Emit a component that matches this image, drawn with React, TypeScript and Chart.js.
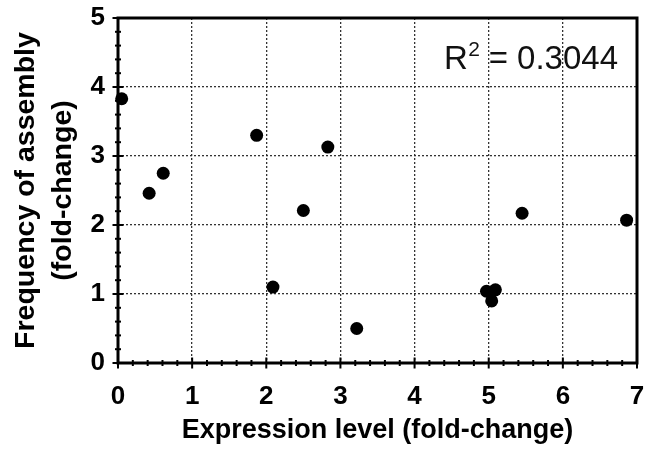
import React, { useEffect, useRef } from "react";
import { Chart, registerables } from "chart.js";

Chart.register(...registerables);

const expression = [0.05, 0.42, 0.61, 1.87, 2.09, 2.5, 2.83, 3.22, 4.97, 5.04, 5.09, 5.45, 6.86];
const frequency = [3.83, 2.46, 2.75, 3.3, 1.1, 2.21, 3.13, 0.5, 1.04, 0.9, 1.06, 2.17, 2.07];
const xTitle = "Expression level (fold-change)";
const yTitle = ["Frequency of assembly", "(fold-change)"];
const rSquared = "0.3044";
const X_MIN = 0, X_MAX = 7, Y_MIN = 0, Y_MAX = 5;
const MINOR = 0.2;

const FONT = "'Liberation Sans', Arial, Helvetica, sans-serif";

const framePlugin = {
  id: "frame",
  beforeDatasetsDraw(chart: any) {
    const { ctx, chartArea: a, scales } = chart;
    const x = scales.x, y = scales.y;
    ctx.save();
    ctx.strokeStyle = "#000";
    ctx.lineWidth = 3;
    ctx.strokeRect(a.left, a.top, a.right - a.left, a.bottom - a.top);
    ctx.lineWidth = 2;
    const nx = Math.round((x.max - x.min) / MINOR);
    for (let i = 0; i <= nx; i++) {
      const v = x.min + i * MINOR;
      const major = Math.abs(v - Math.round(v)) < 1e-6;
      const len = major ? 5.5 : 3;
      const px = x.getPixelForValue(v);
      ctx.beginPath();
      ctx.moveTo(px, a.bottom - len);
      ctx.lineTo(px, a.bottom + len);
      ctx.stroke();
    }
    const ny = Math.round((y.max - y.min) / MINOR);
    for (let i = 0; i <= ny; i++) {
      const v = y.min + i * MINOR;
      const major = Math.abs(v - Math.round(v)) < 1e-6;
      const len = major ? 5.5 : 3;
      const py = y.getPixelForValue(v);
      ctx.beginPath();
      ctx.moveTo(a.left - len, py);
      ctx.lineTo(a.left + len, py);
      ctx.stroke();
    }
    ctx.restore();
  },
  afterDraw(chart: any) {
    const { ctx, chartArea: a } = chart;
    ctx.save();
    ctx.fillStyle = "#111";
    ctx.textBaseline = "alphabetic";
    const rest = " = " + rSquared;
    ctx.font = `33px ${FONT}`;
    const wRest = ctx.measureText(rest).width;
    const wR = ctx.measureText("R").width;
    ctx.font = `21px ${FONT}`;
    const w2 = ctx.measureText("2").width;
    const right = a.right - 19;
    const base = a.top + 51;
    const start = right - wRest - w2 - wR;
    ctx.font = `33px ${FONT}`;
    ctx.textAlign = "left";
    ctx.fillText("R", start, base);
    ctx.fillText(rest, start + wR + w2, base);
    ctx.font = `21px ${FONT}`;
    ctx.fillText("2", start + wR + 0.5, base - 13);
    ctx.restore();
  },
};

export default function App() {
  const ref = useRef<HTMLCanvasElement | null>(null);
  useEffect(() => {
    if (!ref.current) return;
    const gridColor = "rgba(40,40,40,0.95)";
    const zeroPad = (s: any) => {
      s.paddingTop = 0;
      s.paddingBottom = 0;
      s.paddingLeft = 0;
      s.paddingRight = 0;
    };
    const chart = new Chart(ref.current, {
      type: "scatter",
      data: {
        datasets: [
          {
            data: expression.map((e, i) => ({ x: e, y: frequency[i] })),
            backgroundColor: "#000",
            borderColor: "#000",
            borderWidth: 0,
            pointRadius: 6.5,
            pointHoverRadius: 6.5,
            clip: false as any,
          },
        ],
      },
      options: {
        animation: false,
        responsive: true,
        maintainAspectRatio: false,
        events: [],
        layout: { padding: { top: 18, right: 11, left: 0, bottom: 0 } },
        plugins: { legend: { display: false }, tooltip: { enabled: false } },
        scales: {
          x: {
            type: "linear",
            min: X_MIN,
            max: X_MAX,
            ticks: {
              stepSize: 1,
              color: "#000",
              padding: 18,
              font: { family: FONT, size: 26, weight: "bold" },
              maxRotation: 0,
            },
            grid: {
              drawTicks: false,
              color: gridColor,
              lineWidth: 1.3,
            },
            border: { display: false, dash: [2, 2] },
            title: {
              display: true,
              text: xTitle,
              color: "#000",
              font: { family: FONT, size: 27, weight: "bold" },
              padding: { top: 0, bottom: 7 },
            },
            afterFit: (s: any) => {
              s.height = 91;
              zeroPad(s);
            },
          },
          y: {
            type: "linear",
            min: Y_MIN,
            max: Y_MAX,
            ticks: {
              stepSize: 1,
              color: "#000",
              padding: 13,
              font: { family: FONT, size: 26, weight: "bold" },
            },
            grid: {
              drawTicks: false,
              color: gridColor,
              lineWidth: 1.3,
            },
            border: { display: false, dash: [2, 2] },
            title: {
              display: true,
              text: yTitle,
              color: "#000",
              font: { family: FONT, size: 28.5, weight: "bold", lineHeight: 1.3 },
              padding: { top: 8, bottom: 0 },
            },
            afterFit: (s: any) => {
              s.width = 118;
              zeroPad(s);
            },
          },
        },
      } as any,
      plugins: [framePlugin],
    });
    return () => chart.destroy();
  }, []);
  return (
    <div style={{ position: "fixed", left: 0, top: 0, width: 648, height: 454, background: "#fff" }}>
      <canvas ref={ref} />
    </div>
  );
}
